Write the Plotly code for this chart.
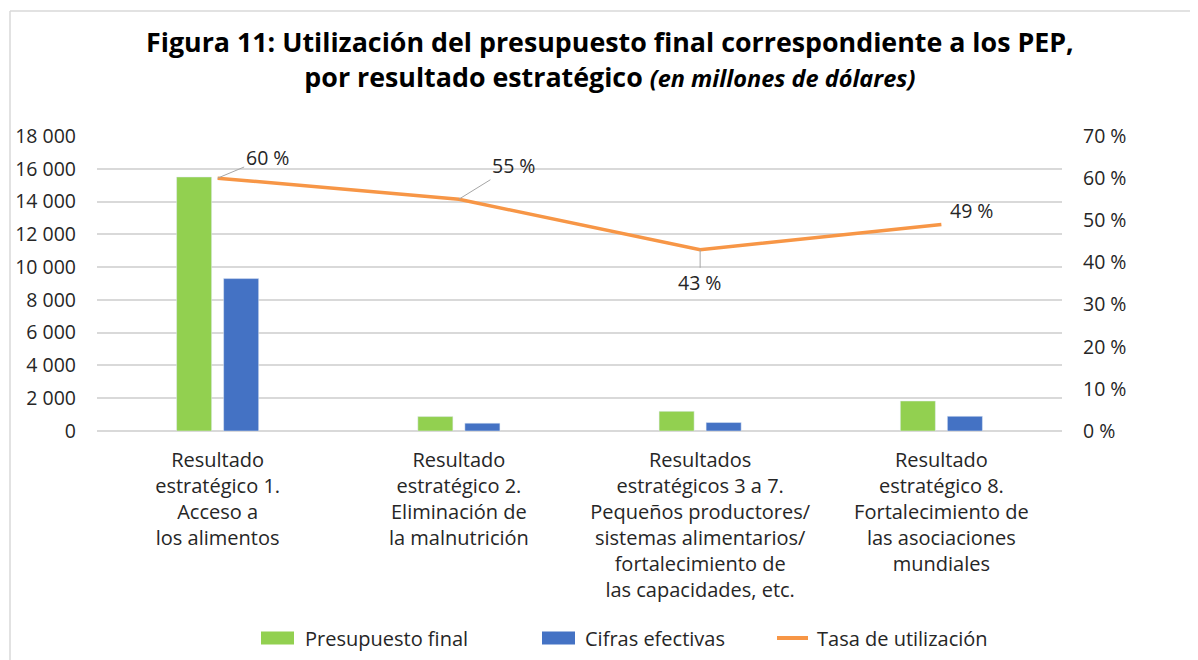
import plotly.graph_objects as go

categories = [
    "Resultado<br>estratégico 1.<br>Acceso a<br>los alimentos",
    "Resultado<br>estratégico 2.<br>Eliminación de<br>la malnutrición",
    "Resultados<br>estratégicos 3 a 7.<br>Pequeños productores/<br>sistemas alimentarios/<br>fortalecimiento de<br>las capacidades, etc.",
    "Resultado<br>estratégico 8.<br>Fortalecimiento de<br>las asociaciones<br>mundiales",
]
presupuesto_final = [15500, 880, 1200, 1830]
cifras_efectivas = [9300, 480, 515, 897]
tasa_utilizacion = [60, 55, 43, 49]
tasa_labels = ["60 %", "55 %", "43 %", "49 %"]
left_ticks = [0, 2000, 4000, 6000, 8000, 10000, 12000, 14000, 16000, 18000]
right_ticks = [0, 10, 20, 30, 40, 50, 60, 70]
right_tick_labels = ["0 %", "10 %", "20 %", "30 %", "40 %", "50 %", "60 %", "70 %"]
series_names = ["Presupuesto final", "Cifras efectivas", "Tasa de utilización"]

FONT = "Open Sans"
TXT = "#262626"
GREEN = "#92D050"
BLUE = "#4472C4"
ORANGE = "#F79646"
GRID = "#D9D9D9"

OFF = 8  # page body margin
W, H = 1198 - OFF, 660 - OFF
# plot area in screen pixels
SL, SR, ST, SB = 97, 1062, 136, 431
L, R, T, B = SL - OFF, SR - OFF, ST - OFF, SB - OFF
pw, ph = R - L, B - T

def px_x(p):  # screen x -> paper
    return (p - OFF - L) / pw

def px_y(p):  # screen y -> paper
    return (B - (p - OFF)) / ph

fig = go.Figure()
fig.add_trace(go.Bar(x=categories, y=presupuesto_final, name=series_names[0],
                     marker=dict(color=GREEN), yaxis="y", showlegend=False))
fig.add_trace(go.Bar(x=categories, y=cifras_efectivas, name=series_names[1],
                     marker=dict(color=BLUE), yaxis="y", showlegend=False))
fig.add_trace(go.Scatter(x=categories, y=tasa_utilizacion, name=series_names[2],
                         mode="lines", line=dict(color=ORANGE, width=3.5), yaxis="y2",
                         showlegend=False))

LBL = 19.5
annotations = []
offsets = [(50, -21, True), (55, -34, True), (0, 33, True), (31, 14, False)]
for cat, val, lab, (ax, ay, arrow) in zip(categories, tasa_utilizacion, tasa_labels, offsets):
    if arrow:
        annotations.append(dict(x=cat, y=val, xref="x", yref="y2", text=lab,
                                showarrow=True, arrowhead=0, arrowwidth=1,
                                arrowcolor="#A6A6A6", ax=ax, ay=ay,
                                font=dict(family=FONT, size=LBL, color=TXT)))
    else:
        annotations.append(dict(x=cat, y=val, xref="x", yref="y2", text=lab,
                                showarrow=False, xshift=ax, yshift=ay,
                                font=dict(family=FONT, size=LBL, color=TXT)))

# title (single two-line text)
annotations.append(dict(
    x=px_x(610), y=px_y(59), xref="paper", yref="paper", xanchor="center", yanchor="middle",
    showarrow=False, align="center",
    text="<b>Figura 11: Utilización del presupuesto final correspondiente a los PEP,<br>"
         "por resultado estratégico <i><span style='font-size:23.5px'>(en millones de dólares)</span></i></b>",
    font=dict(family=FONT, size=26.8, color="#000000"),
))

shapes = [
    dict(type="line", xref="paper", yref="paper", x0=px_x(10), x1=px_x(1210),
         y0=px_y(11), y1=px_y(11), line=dict(color=GRID, width=1.5)),
    dict(type="line", xref="paper", yref="paper", x0=px_x(10), x1=px_x(10),
         y0=px_y(11), y1=px_y(670), line=dict(color=GRID, width=1.5)),
]

# custom legend
leg_y = 638
swatches = [(261, 294, GREEN, "rect", 303), (542, 575, BLUE, "rect", 583), (777, 808, ORANGE, "line", 815)]
for name, (x0, x1, col, kind, tx) in zip(series_names, swatches):
    if kind == "rect":
        shapes.append(dict(type="rect", xref="paper", yref="paper",
                           x0=px_x(x0), x1=px_x(x1), y0=px_y(leg_y - 6.5), y1=px_y(leg_y + 6.5),
                           fillcolor=col, line=dict(width=0)))
    else:
        shapes.append(dict(type="line", xref="paper", yref="paper",
                           x0=px_x(x0), x1=px_x(x1), y0=px_y(leg_y), y1=px_y(leg_y),
                           line=dict(color=col, width=4)))
    annotations.append(dict(x=px_x(tx), y=px_y(leg_y), xref="paper", yref="paper",
                            xanchor="left", yanchor="middle", showarrow=False, text=name,
                            font=dict(family=FONT, size=20, color=TXT)))

fig.update_layout(
    width=W, height=H,
    margin=dict(l=L, r=W - R, t=T, b=H - B, autoexpand=False),
    paper_bgcolor="white", plot_bgcolor="white",
    separators=", ",
    font=dict(family=FONT, size=19.5, color=TXT),
    barmode="group", bargap=0.61, bargroupgap=0.255,
    showlegend=False,
    xaxis=dict(showgrid=False, showline=False, ticks="", tickfont=dict(size=20, color=TXT),
               ticklabelstandoff=15),
    yaxis=dict(range=[0, 18000], tickvals=left_ticks, tickformat=",d",
               showgrid=True, gridcolor=GRID, gridwidth=1.5, zeroline=True,
               zerolinecolor=GRID, zerolinewidth=1.5, showline=False,
               tickfont=dict(size=19.5, color=TXT), ticklabelstandoff=20),
    yaxis2=dict(range=[0, 70], tickvals=right_ticks, ticktext=right_tick_labels,
                overlaying="y", side="right", showgrid=False, zeroline=False, showline=False,
                tickfont=dict(size=19.5, color=TXT), ticklabelstandoff=20),
    annotations=annotations,
    shapes=shapes,
)

fig.write_html("out.html")
